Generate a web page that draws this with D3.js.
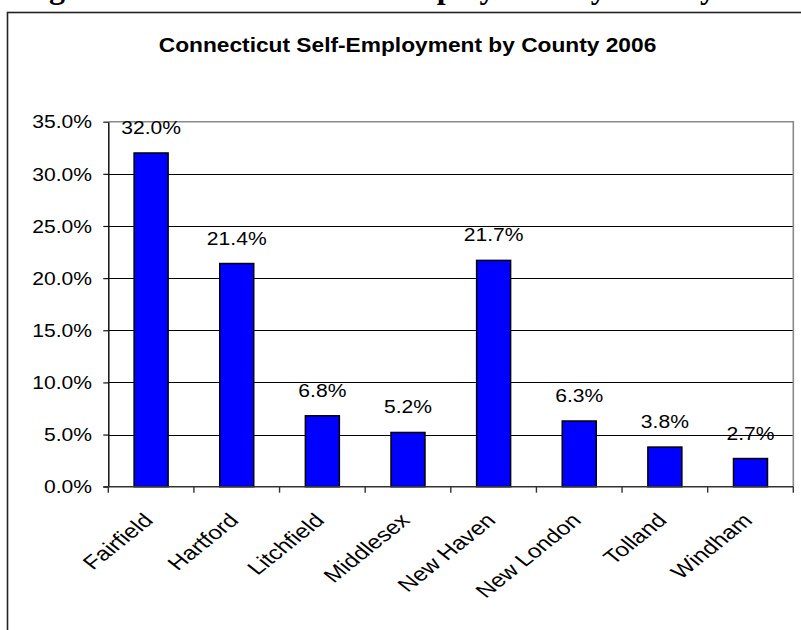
<!DOCTYPE html>
<html>
<head>
<meta charset="utf-8">
<script src="https://cdn.jsdelivr.net/npm/d3@7/dist/d3.min.js"></script>
<style>
  html, body { margin: 0; padding: 0; background: #fff; }
  svg { display: block; }
</style>
</head>
<body>
<svg id="chart" width="801" height="630"></svg>
<script>
// County self-employment shares, 2006 (percent)
const counties = ["Fairfield", "Hartford", "Litchfield", "Middlesex", "New Haven", "New London", "Tolland", "Windham"];
const shares = [32.0, 21.4, 6.8, 5.2, 21.7, 6.3, 3.8, 2.7];
const yTicks = [0, 5, 10, 15, 20, 25, 30, 35];
const chartTitle = "Connecticut Self-Employment by County 2006";
const captionText = "Figure 4: Connecticut Self-Employment by County 2006";

const svg = d3.select("#chart");
const W = 801, H = 630;
const SX = 1.14;      // horizontal stretch of the chart text
const SX_CAT = 1.25;  // stretch of the slanted category labels
const font = "Arial, 'Liberation Sans', Helvetica, sans-serif";

const plot = { left: 108.3, right: 793.3, top: 121.7, bottom: 486.7 };

const x = d3.scaleBand()
  .domain(counties)
  .range([plot.left, plot.right])
  .paddingInner(0.603)
  .paddingOuter(0.3015);

const y = d3.scaleLinear()
  .domain([0, 35])
  .range([plot.bottom, plot.top]);

const data = counties.map((c, i) => ({ county: c, value: shares[i] }));

// document caption running above the chart frame
svg.append("text")
  .attr("x", 20.6)
  .attr("y", -2)
  .attr("font-family", "'Liberation Serif', 'Times New Roman', serif")
  .attr("font-weight", "bold")
  .attr("font-size", 32)
  .attr("fill", "#000")
  .text(captionText);

// chart frame (right and bottom edges fall outside the page)
svg.append("rect")
  .attr("x", 7.5).attr("y", 12.5)
  .attr("width", W + 20).attr("height", H + 20)
  .attr("fill", "none")
  .attr("stroke", "#222")
  .attr("stroke-width", 1.6);

// title
svg.append("text")
  .attr("transform", `translate(407.5,52) scale(1.166,1)`)
  .attr("text-anchor", "middle")
  .attr("font-family", font)
  .attr("font-weight", "bold")
  .attr("font-size", 19.5)
  .attr("fill", "#000")
  .text(chartTitle);

// gridlines
svg.append("g")
  .selectAll("line")
  .data(yTicks.filter(t => t > 0 && t < 35))
  .join("line")
  .attr("x1", plot.left).attr("x2", plot.right)
  .attr("y1", d => Math.round(y(d)) + 0.5).attr("y2", d => Math.round(y(d)) + 0.5)
  .attr("stroke", "#000")
  .attr("stroke-width", 1);

// plot area border (top and right)
svg.append("path")
  .attr("d", `M${plot.left},${y(35)}H${plot.right}V${plot.bottom}`)
  .attr("fill", "none")
  .attr("stroke", "#8a8a8a")
  .attr("stroke-width", 1.6);

// bars
svg.append("g")
  .selectAll("rect")
  .data(data)
  .join("rect")
  .attr("x", d => x(d.county))
  .attr("y", d => y(d.value))
  .attr("width", x.bandwidth())
  .attr("height", d => y(0) - y(d.value))
  .attr("fill", "#0000ff")
  .attr("stroke", "#000")
  .attr("stroke-width", 1.5);

// value labels
svg.append("g")
  .selectAll("text")
  .data(data)
  .join("text")
  .attr("transform", d => `translate(${x(d.county) + x.bandwidth() / 2},${y(d.value) - 19}) scale(${SX},1)`)
  .attr("text-anchor", "middle")
  .attr("font-family", font)
  .attr("font-size", 18.5)
  .attr("fill", "#000")
  .text(d => d.value.toFixed(1) + "%");

// y axis
const yAxis = svg.append("g")
  .attr("transform", `translate(${plot.left},0)`)
  .call(d3.axisLeft(y).tickValues(yTicks).tickSize(5).tickSizeOuter(0).tickFormat(() => ""));
yAxis.select(".domain").attr("stroke", "#111").attr("stroke-width", 1.5);
yAxis.selectAll(".tick line").attr("stroke", "#111").attr("stroke-width", 1.2);

svg.append("g")
  .selectAll("text")
  .data(yTicks)
  .join("text")
  .attr("transform", d => `translate(92,${y(d)}) scale(${SX},1)`)
  .attr("text-anchor", "end")
  .attr("dy", "0.36em")
  .attr("font-family", font)
  .attr("font-size", 18.5)
  .attr("fill", "#000")
  .text(d => d.toFixed(1) + "%");

// x axis: line with ticks at category boundaries
const step = x.step();
const xAxisG = svg.append("g");
xAxisG.append("line")
  .attr("x1", plot.left - 5).attr("x2", plot.right)
  .attr("y1", plot.bottom).attr("y2", plot.bottom)
  .attr("stroke", "#333").attr("stroke-width", 1.6);
xAxisG.selectAll("line.tk")
  .data(d3.range(counties.length + 1))
  .join("line")
  .attr("class", "tk")
  .attr("x1", i => plot.left + i * step).attr("x2", i => plot.left + i * step)
  .attr("y1", plot.bottom).attr("y2", plot.bottom + 6)
  .attr("stroke", "#333").attr("stroke-width", 1.4);

// slanted category labels
svg.append("g")
  .selectAll("text")
  .data(counties)
  .join("text")
  .attr("transform", d => `translate(${x(d) + x.bandwidth() / 2 - 3},${plot.bottom + 30}) scale(${SX_CAT},1) rotate(-45)`)
  .attr("text-anchor", "end")
  .attr("dy", "0.36em")
  .attr("font-family", font)
  .attr("font-size", 19.5)
  .attr("fill", "#000")
  .text(d => d);
</script>
</body>
</html>
